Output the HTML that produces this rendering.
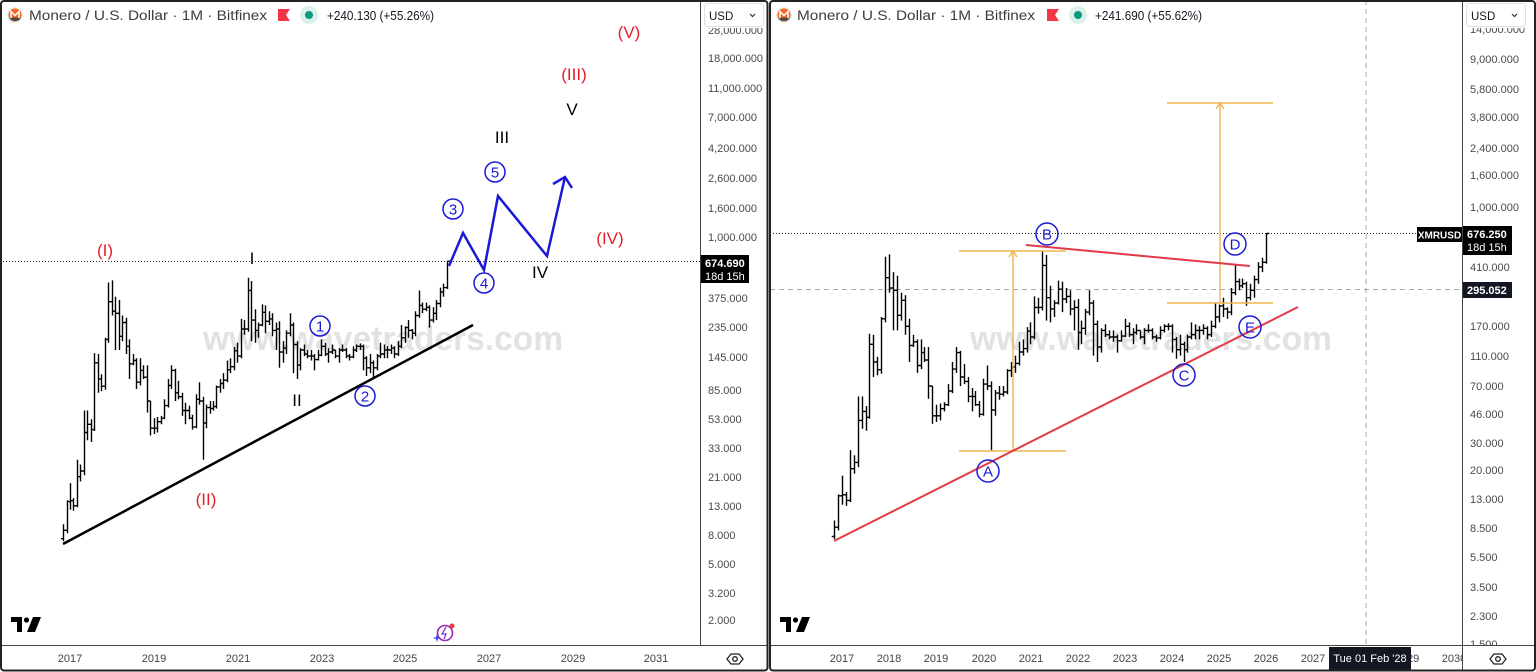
<!DOCTYPE html>
<html><head><meta charset="utf-8"><style>
html,body{margin:0;padding:0;background:#fff;width:1536px;height:672px;overflow:hidden}
svg{display:block;font-family:"Liberation Sans",Arial,sans-serif}
</style></head><body>
<svg id="s" width="1536" height="672" viewBox="0 0 1536 672" xmlns="http://www.w3.org/2000/svg">
<defs>
<clipPath id="cl"><rect x="2" y="2" width="698" height="643"/></clipPath>
<clipPath id="cr"><rect x="771" y="2" width="691" height="643"/></clipPath>
<clipPath id="tr"><rect x="771" y="646" width="691" height="24"/></clipPath>
</defs>
<rect x="0" y="0" width="1536" height="672" fill="#fff"/>

<!-- ================= LEFT PANEL ================= -->
<g clip-path="url(#cl)">
<text x="383" y="350" font-size="34" font-weight="bold" fill="#e2e2e2" text-anchor="middle" textLength="360" lengthAdjust="spacingAndGlyphs">www.wavetraders.com</text>
<line x1="0" y1="261.5" x2="700" y2="261.5" stroke="#222" stroke-width="1" stroke-dasharray="1,2"/>
<path id="barsL" fill="none" stroke="#000" stroke-width="1.4"/>
<line x1="63" y1="544" x2="473" y2="325" stroke="#000" stroke-width="2.5"/>
<polyline points="449,266 463,233 484,270 498,196 547,256 565,177" fill="none" stroke="#1a1ad6" stroke-width="2.5" stroke-linejoin="miter"/>
<polyline points="553,184 565,177 572,188" fill="none" stroke="#1a1ad6" stroke-width="2.5"/>
</g>
<!-- left labels -->
<g font-size="17" text-anchor="middle">
<text x="105" y="256" fill="#e0202a">(I)</text>
<text x="206" y="505" fill="#e0202a">(II)</text>
<text x="574" y="80" fill="#e0202a">(III)</text>
<text x="610" y="244" fill="#e0202a">(IV)</text>
<text x="629" y="38" fill="#e0202a">(V)</text>
<text x="252" y="264" fill="#000">I</text>
<text x="297" y="406" fill="#000">II</text>
<text x="502" y="143" fill="#000">III</text>
<text x="540" y="278" fill="#000">IV</text>
<text x="572" y="115" fill="#000">V</text>
</g>
<g fill="none" stroke="#1a1ad6" stroke-width="1.5">
<circle cx="320" cy="326" r="10"/><circle cx="365" cy="396" r="10"/><circle cx="453" cy="209" r="10"/><circle cx="484" cy="283" r="10"/><circle cx="495" cy="172" r="10"/>
</g>
<g font-size="15" fill="#1a1ad6" text-anchor="middle">
<text x="320" y="331.5">1</text><text x="365" y="401.5">2</text><text x="453" y="214.5">3</text><text x="484" y="288.5">4</text><text x="495" y="177.5">5</text>
</g>

<!-- left header -->
<circle cx="15" cy="15" r="8" fill="#ececec"/>
<circle cx="15" cy="15" r="6.5" fill="#f26822"/>
<path d="M9.2,17.5 A6.5,6.5 0 0 0 20.8,17.5 Z" fill="#4d4d4d"/>
<polyline points="11,18 11,11.5 15,15.5 19,11.5 19,18" fill="none" stroke="#fff" stroke-width="1.5"/>
<text x="29" y="20" font-size="13.5" fill="#3d3d3d" textLength="238" lengthAdjust="spacingAndGlyphs">Monero / U.S. Dollar · 1M · Bitfinex</text>
<path d="M278,9 H290 L286,15 L290,21 H278 Z" fill="#f23645"/>
<circle cx="309" cy="15" r="9" fill="#dcf1ea"/>
<circle cx="309" cy="15" r="4" fill="#089981"/>
<text x="327" y="20" font-size="12.5" fill="#131722" textLength="107" lengthAdjust="spacingAndGlyphs">+240.130 (+55.26%)</text>

<!-- left logo & icon -->
<g fill="#000">
<path d="M11,617 H22 V632 H17 V622 H11 Z"/>
<circle cx="26.5" cy="620" r="2.6"/>
<path d="M33,617 H41 L35,632 H27 Z"/>
</g>
<circle cx="445" cy="633" r="7.5" fill="none" stroke="#9c27b0" stroke-width="1.6"/>
<path d="M446,627 L442,634 H446 L444,639" fill="none" stroke="#7b3fe4" stroke-width="1.3"/>
<circle cx="452" cy="626" r="2.5" fill="#f23645"/>
<path d="M437,634 L438,637 L441,638 L438,639 L437,642 L436,639 L433,638 L436,637 Z" fill="#3f51f5"/>

<!-- left price axis -->
<line x1="700.5" y1="0" x2="700.5" y2="645" stroke="#444" stroke-width="1"/>
<line x1="0" y1="645.5" x2="767" y2="645.5" stroke="#444" stroke-width="1"/>
<g font-size="11" fill="#4a4a4a">
<text x="708" y="34">28,000.000</text>
<text x="708" y="62">18,000.000</text>
<text x="708" y="92">11,000.000</text>
<text x="708" y="121">7,000.000</text>
<text x="708" y="152">4,200.000</text>
<text x="708" y="182">2,600.000</text>
<text x="708" y="212">1,600.000</text>
<text x="708" y="241">1,000.000</text>
<text x="708" y="302">375.000</text>
<text x="708" y="331">235.000</text>
<text x="708" y="361">145.000</text>
<text x="708" y="394">85.000</text>
<text x="708" y="423">53.000</text>
<text x="708" y="452">33.000</text>
<text x="708" y="481">21.000</text>
<text x="708" y="510">13.000</text>
<text x="708" y="539">8.000</text>
<text x="708" y="568">5.000</text>
<text x="708" y="597">3.200</text>
<text x="708" y="624">2.000</text>
</g>
<rect x="701" y="0" width="66" height="28" fill="#fff"/>
<rect x="704.5" y="3.5" width="59" height="23" rx="3" fill="#fff" stroke="#e0e0e0"/>
<text x="709" y="20" font-size="11.5" fill="#131722">USD</text>
<polyline points="750,14 752.5,16.5 755,14" fill="none" stroke="#333" stroke-width="1.2"/>
<rect x="701" y="255" width="48" height="28" fill="#000"/>
<text x="705" y="267" font-size="11" font-weight="bold" fill="#fff">674.690</text>
<text x="705" y="280" font-size="11" fill="#fff">18d 15h</text>
<path d="M727,659 L731,654 H739 L743,659 L739,664 H731 Z" fill="none" stroke="#222" stroke-width="1.3"/>
<circle cx="735" cy="659" r="2.3" fill="none" stroke="#222" stroke-width="1.3"/>
<g font-size="11" fill="#444" text-anchor="middle">
<text x="70" y="662">2017</text><text x="154" y="662">2019</text><text x="238" y="662">2021</text><text x="322" y="662">2023</text>
<text x="405" y="662">2025</text><text x="489" y="662">2027</text><text x="573" y="662">2029</text><text x="656" y="662">2031</text>
</g>
<rect x="1" y="1" width="766.5" height="669.5" rx="3" fill="none" stroke="#222" stroke-width="2"/>

<!-- ================= RIGHT PANEL ================= -->
<g clip-path="url(#cr)">
<text x="1151" y="350" font-size="34" font-weight="bold" fill="#e2e2e2" text-anchor="middle" textLength="362" lengthAdjust="spacingAndGlyphs">www.wavetraders.com</text>
<line x1="1366" y1="0" x2="1366" y2="645" stroke="#aaa" stroke-width="1" stroke-dasharray="5,4"/>
<line x1="770" y1="289.5" x2="1462" y2="289.5" stroke="#aaa" stroke-width="1" stroke-dasharray="5,4"/>
<line x1="770" y1="233.5" x2="1418" y2="233.5" stroke="#222" stroke-width="1" stroke-dasharray="1,2"/>
<path id="barsR" fill="none" stroke="#000" stroke-width="1.4"/>
<g stroke="#f0b550" stroke-width="1.4" fill="none">
<line x1="959" y1="251" x2="1066" y2="251"/>
<line x1="959" y1="451" x2="1066" y2="451"/>
<line x1="1013" y1="451" x2="1013" y2="251"/>
<polyline points="1009,257 1013,251 1017,257"/>
<line x1="1167" y1="103" x2="1273" y2="103"/>
<line x1="1167" y1="303" x2="1273" y2="303"/>
<line x1="1220" y1="303" x2="1220" y2="103"/>
<polyline points="1216,109 1220,103 1224,109"/>
</g>
<line x1="834" y1="541" x2="1298" y2="307" stroke="#e23b48" stroke-width="2"/>
<line x1="1026" y1="245" x2="1250" y2="266" stroke="#e23b48" stroke-width="2"/>
</g>
<g fill="none" stroke="#1a1ad6" stroke-width="1.5">
<circle cx="988" cy="471" r="11"/><circle cx="1047" cy="234" r="11"/><circle cx="1184" cy="375" r="11"/><circle cx="1235" cy="244" r="11"/><circle cx="1250" cy="327" r="11"/>
</g>
<g font-size="15" fill="#1a1ad6" text-anchor="middle">
<text x="988" y="476.5">A</text><text x="1047" y="239.5">B</text><text x="1184" y="380.5">C</text><text x="1235" y="249.5">D</text><text x="1250" y="332.5">E</text>
</g>

<!-- right header -->
<circle cx="784" cy="15" r="8" fill="#ececec"/>
<circle cx="784" cy="15" r="6.5" fill="#f26822"/>
<path d="M778.2,17.5 A6.5,6.5 0 0 0 789.8,17.5 Z" fill="#4d4d4d"/>
<polyline points="780,18 780,11.5 784,15.5 788,11.5 788,18" fill="none" stroke="#fff" stroke-width="1.5"/>
<text x="797" y="20" font-size="13.5" fill="#3d3d3d" textLength="238" lengthAdjust="spacingAndGlyphs">Monero / U.S. Dollar · 1M · Bitfinex</text>
<path d="M1047,9 H1059 L1055,15 L1059,21 H1047 Z" fill="#f23645"/>
<circle cx="1078" cy="15" r="9" fill="#dcf1ea"/>
<circle cx="1078" cy="15" r="4" fill="#089981"/>
<text x="1095" y="20" font-size="12.5" fill="#131722" textLength="107" lengthAdjust="spacingAndGlyphs">+241.690 (+55.62%)</text>

<g fill="#000">
<path d="M780,617 H791 V632 H786 V622 H780 Z"/>
<circle cx="795.5" cy="620" r="2.6"/>
<path d="M802,617 H810 L804,632 H796 Z"/>
</g>

<!-- right axes -->
<line x1="1462.5" y1="0" x2="1462.5" y2="670" stroke="#444" stroke-width="1"/>
<line x1="770" y1="645.5" x2="1536" y2="645.5" stroke="#444" stroke-width="1"/>
<g font-size="11" fill="#4a4a4a">
<text x="1470" y="33">14,000.000</text>
<text x="1470" y="63">9,000.000</text>
<text x="1470" y="93">5,800.000</text>
<text x="1470" y="121">3,800.000</text>
<text x="1470" y="152">2,400.000</text>
<text x="1470" y="179">1,600.000</text>
<text x="1470" y="211">1,000.000</text>
<text x="1470" y="271">410.000</text>
<text x="1470" y="330">170.000</text>
<text x="1470" y="360">110.000</text>
<text x="1470" y="390">70.000</text>
<text x="1470" y="418">46.000</text>
<text x="1470" y="447">30.000</text>
<text x="1470" y="474">20.000</text>
<text x="1470" y="503">13.000</text>
<text x="1470" y="532">8.500</text>
<text x="1470" y="561">5.500</text>
<text x="1470" y="591">3.500</text>
<text x="1470" y="620">2.300</text>
<text x="1470" y="648">1.500</text>
</g>
<rect x="1463" y="646" width="72" height="24" fill="#fff"/>
<line x1="1462" y1="645.5" x2="1536" y2="645.5" stroke="#444" stroke-width="1"/>
<rect x="1463" y="0" width="72" height="28" fill="#fff"/>
<rect x="1466.5" y="3.5" width="59" height="23" rx="3" fill="#fff" stroke="#e0e0e0"/>
<text x="1471" y="20" font-size="11.5" fill="#131722">USD</text>
<polyline points="1512,14 1514.5,16.5 1517,14" fill="none" stroke="#333" stroke-width="1.2"/>
<rect x="1417" y="227" width="45" height="15" fill="#000"/>
<text x="1439.5" y="238.5" font-size="10" font-weight="bold" fill="#fff" text-anchor="middle">XMRUSD</text>
<rect x="1463" y="226" width="49" height="29" fill="#000"/>
<text x="1467" y="238" font-size="11" font-weight="bold" fill="#fff">676.250</text>
<text x="1467" y="251" font-size="11" fill="#fff">18d 15h</text>
<rect x="1463" y="282" width="49" height="16" fill="#131722"/>
<text x="1467" y="294" font-size="11" font-weight="bold" fill="#fff">295.052</text>
<path d="M1490,659 L1494,654 H1502 L1506,659 L1502,664 H1494 Z" fill="none" stroke="#222" stroke-width="1.3"/>
<circle cx="1498" cy="659" r="2.3" fill="none" stroke="#222" stroke-width="1.3"/>
<g font-size="11" fill="#444" text-anchor="middle" clip-path="url(#tr)">
<text x="842" y="662">2017</text><text x="889" y="662">2018</text><text x="936" y="662">2019</text><text x="984" y="662">2020</text>
<text x="1031" y="662">2021</text><text x="1078" y="662">2022</text><text x="1125" y="662">2023</text><text x="1172" y="662">2024</text>
<text x="1219" y="662">2025</text><text x="1266" y="662">2026</text><text x="1313" y="662">2027</text><text x="1360" y="662">2028</text>
<text x="1407" y="662">2029</text><text x="1454" y="662">2030</text>
</g>
<rect x="1329" y="647" width="82" height="23" fill="#131722"/>
<text x="1370" y="662" font-size="11" fill="#fff" text-anchor="middle">Tue 01 Feb '28</text>
<rect x="770" y="1" width="765" height="669.5" rx="3" fill="none" stroke="#222" stroke-width="2"/>
</svg>
<script>
(function(){
var D=[[7.5,9.5,7.2,8.6],[8.6,14,8.2,13.7],[13.7,18.5,12,13.9],[13.9,14.5,11.8,12.8],[12.8,27,12.5,20.5],[20.5,25,19,22.5],[22.5,60,21,42],[42,60,37,48],[48,52,36,44],[44,152,43,130],[130,150,80,100],[100,108,82,89],[89,195,84,190],[190,478,180,350],[350,495,280,300],[300,380,160,290],[290,360,160,200],[200,280,185,250],[250,270,150,170],[170,190,100,128],[128,150,125,135],[135,140,85,95],[95,140,90,115],[115,125,100,103],[103,125,58,70],[70,70,40,45],[45,53,41,45],[45,54,42,50],[50,55,48,53],[53,72,52,65],[65,100,63,90],[90,125,85,115],[115,118,70,80],[80,97,72,75],[75,80,55,60],[60,68,48,60],[60,65,52,53],[53,56,44,46],[46,78,45,72],[72,95,66,70],[70,75,27,49],[49,66,45,63],[63,70,57,62],[62,70,60,64],[64,90,62,88],[88,100,80,93],[93,110,85,98],[98,135,95,116],[116,140,110,122],[122,168,115,158],[158,180,130,145],[145,265,140,225],[225,260,205,225],[225,517,215,420],[420,490,185,260],[260,310,180,220],[220,250,195,240],[240,335,235,295],[295,330,210,255],[255,300,240,265],[265,290,200,220],[220,250,160,225],[225,255,120,155],[155,185,130,165],[165,220,150,210],[210,290,200,240],[240,250,110,175],[175,185,100,125],[125,165,115,160],[160,175,145,150],[150,160,140,145],[145,160,135,145],[145,150,115,137],[137,160,135,147],[147,190,145,170],[170,180,145,150],[150,165,130,155],[155,175,150,160],[160,160,140,145],[145,165,130,160],[160,175,155,160],[160,165,140,145],[145,150,135,143],[143,170,140,160],[160,175,155,170],[170,178,160,170],[170,175,115,140],[140,145,105,120],[120,150,110,130],[130,135,100,120],[120,150,115,145],[145,180,140,150],[150,175,140,160],[160,170,140,160],[160,175,150,165],[165,170,140,150],[150,185,145,170],[170,240,165,195],[195,235,180,230],[230,260,195,220],[220,225,190,210],[210,300,200,280],[280,420,270,330],[330,345,290,310],[310,345,300,320],[320,330,230,260],[260,320,250,290],[290,360,260,340],[340,440,320,410],[410,470,380,440],[440,680,430,675]];
function L(v){return Math.log(v/1000)/Math.LN10;}
function build(xf,yf,t){
 var s="";
 for(var i=0;i<D.length;i++){
  var d=D[i],x=Math.round(xf(i))+0.5;
  var h=yf(d[1]),l=yf(d[2]),o=yf(d[0]),c=yf(d[3]);
  if(l-h<1){l=h+1;}
  s+="M"+x+","+h.toFixed(1)+"V"+l.toFixed(1)+"M"+(x-t)+","+o.toFixed(1)+"H"+x+"M"+x+","+c.toFixed(1)+"H"+(x+t);
 }
 return s;
}
document.getElementById("barsL").setAttribute("d",build(function(i){return 70+(i-2)*3.488;},function(p){return 237-142*L(p);},2.5));
document.getElementById("barsR").setAttribute("d",build(function(i){return 842+(i-2)*3.926;},function(p){return 207-155*L(p);},2.8));
})();
</script>
</body></html>
